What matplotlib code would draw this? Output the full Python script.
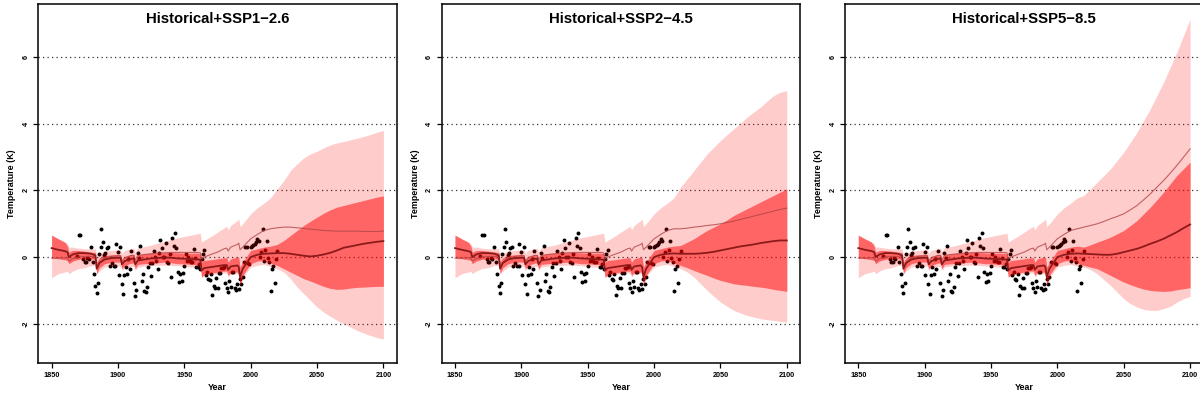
import matplotlib
matplotlib.use("Agg")
import matplotlib.pyplot as plt
import numpy as np

plt.rcParams['font.family'] = ['Liberation Sans', 'DejaVu Sans']

# ---------------- data ----------------
titles = ["Historical+SSP1\u22122.6", "Historical+SSP2\u22124.5", "Historical+SSP5\u22128.5"]

hist_years = [1850, 1855, 1860, 1862, 1863, 1866, 1870, 1875, 1880, 1883, 1884, 1886,
              1890, 1895, 1900, 1902, 1903, 1905, 1910, 1912, 1913, 1915, 1920, 1925,
              1930, 1935, 1940, 1945, 1950, 1955, 1960, 1962, 1963, 1965, 1970, 1975,
              1980, 1982, 1983, 1985, 1990, 1991, 1992, 1994, 2000, 2005, 2010, 2015]
fut_years = [2020, 2025, 2030, 2035, 2040, 2045, 2050, 2055, 2060, 2065, 2070, 2075,
             2080, 2085, 2090, 2095, 2100]

hist_light_up = [0.66, 0.55, 0.45, 0.40, 0.30, 0.30, 0.27, 0.25, 0.25, 0.25, 0.00, 0.12,
                 0.18, 0.20, 0.22, 0.22, 0.10, 0.20, 0.25, 0.27, 0.15, 0.28, 0.32, 0.36,
                 0.42, 0.47, 0.53, 0.58, 0.62, 0.66, 0.70, 0.72, 0.45, 0.50, 0.62, 0.75,
                 0.88, 0.93, 0.82, 0.95, 1.10, 1.15, 0.92, 1.00, 1.30, 1.48, 1.62, 1.78]
hist_light_lo = [-0.62, -0.50, -0.45, -0.42, -0.50, -0.42, -0.35, -0.32, -0.25, -0.25, -0.50, -0.42,
                 -0.30, -0.27, -0.27, -0.27, -0.40, -0.32, -0.28, -0.28, -0.40, -0.30, -0.27, -0.25,
                 -0.25, -0.24, -0.25, -0.26, -0.28, -0.30, -0.30, -0.32, -0.62, -0.56, -0.52, -0.50,
                 -0.48, -0.48, -0.60, -0.52, -0.50, -0.55, -0.85, -0.60, -0.30, -0.25, -0.22, -0.28]
hist_red_up = [0.66, 0.55, 0.45, 0.33, 0.15, 0.20, 0.20, 0.18, 0.15, 0.14, -0.15, -0.02,
               0.05, 0.07, 0.08, 0.07, -0.10, 0.02, 0.08, 0.08, -0.08, 0.06, 0.10, 0.12,
               0.13, 0.14, 0.14, 0.13, 0.12, 0.12, 0.12, 0.10, -0.15, -0.10, -0.08, -0.05,
               -0.02, -0.02, -0.15, -0.05, 0.00, 0.00, -0.30, -0.15, 0.20, 0.25, 0.30, 0.33]
hist_red_lo = [-0.02, -0.05, -0.08, -0.10, -0.20, -0.12, -0.07, -0.05, -0.05, -0.08, -0.50, -0.32,
               -0.20, -0.15, -0.15, -0.15, -0.35, -0.25, -0.18, -0.18, -0.35, -0.22, -0.20, -0.18,
               -0.17, -0.15, -0.17, -0.20, -0.20, -0.22, -0.23, -0.25, -0.60, -0.52, -0.48, -0.45,
               -0.42, -0.42, -0.55, -0.45, -0.45, -0.50, -0.85, -0.55, -0.20, -0.12, -0.10, -0.18]
hist_median = [0.27, 0.22, 0.18, 0.15, 0.00, 0.08, 0.12, 0.12, 0.10, 0.05, -0.35, -0.18,
               -0.07, -0.03, -0.02, -0.02, -0.22, -0.12, -0.05, -0.05, -0.22, -0.10, -0.07, -0.04,
               -0.03, -0.01, -0.02, -0.04, -0.05, -0.06, -0.07, -0.08, -0.40, -0.33, -0.30, -0.27,
               -0.24, -0.24, -0.38, -0.28, -0.25, -0.30, -0.60, -0.35, 0.00, 0.07, 0.10, 0.11]
hist_thin = [-0.03, -0.03, -0.02, -0.02, -0.12, -0.05, 0.00, 0.02, 0.02, 0.00, -0.30, -0.15,
             -0.02, 0.02, 0.04, 0.04, -0.12, -0.02, 0.05, 0.05, -0.08, 0.05, 0.08, 0.10,
             0.12, 0.13, 0.14, 0.14, 0.14, 0.14, 0.14, 0.13, -0.05, 0.00, 0.08, 0.15,
             0.25, 0.27, 0.18, 0.30, 0.38, 0.42, 0.22, 0.30, 0.55, 0.68, 0.80, 0.85]

# future projections, one list per scenario
ssp126_light_up = [2.05, 2.30, 2.60, 2.80, 2.98, 3.10, 3.18, 3.28, 3.37, 3.43, 3.47, 3.52, 3.57, 3.62, 3.68, 3.75, 3.80]
ssp126_light_lo = [-0.35, -0.45, -0.65, -0.90, -1.10, -1.30, -1.50, -1.65, -1.78, -1.90, -2.00, -2.10, -2.20, -2.28, -2.35, -2.42, -2.46]
ssp126_red_up = [0.38, 0.50, 0.65, 0.80, 0.95, 1.08, 1.20, 1.32, 1.42, 1.50, 1.55, 1.60, 1.65, 1.70, 1.75, 1.80, 1.84]
ssp126_red_lo = [-0.25, -0.35, -0.45, -0.55, -0.65, -0.72, -0.80, -0.88, -0.94, -0.97, -0.96, -0.93, -0.91, -0.90, -0.89, -0.88, -0.88]
ssp126_median = [0.12, 0.12, 0.10, 0.07, 0.04, 0.02, 0.04, 0.08, 0.13, 0.20, 0.28, 0.32, 0.36, 0.40, 0.43, 0.46, 0.48]
ssp126_thin = [0.88, 0.90, 0.90, 0.88, 0.86, 0.84, 0.82, 0.80, 0.79, 0.78, 0.78, 0.78, 0.78, 0.77, 0.77, 0.77, 0.78]

ssp245_light_up = [2.10, 2.35, 2.60, 2.85, 3.10, 3.30, 3.50, 3.68, 3.85, 4.02, 4.20, 4.35, 4.50, 4.68, 4.85, 4.95, 5.00]
ssp245_light_lo = [-0.35, -0.45, -0.60, -0.80, -1.00, -1.18, -1.35, -1.48, -1.60, -1.68, -1.75, -1.80, -1.85, -1.88, -1.90, -1.93, -1.95]
ssp245_red_up = [0.35, 0.45, 0.55, 0.68, 0.80, 0.90, 1.00, 1.12, 1.25, 1.35, 1.45, 1.55, 1.65, 1.75, 1.85, 1.95, 2.05]
ssp245_red_lo = [-0.25, -0.32, -0.40, -0.48, -0.55, -0.63, -0.70, -0.75, -0.80, -0.83, -0.85, -0.88, -0.90, -0.93, -0.97, -1.00, -1.03]
ssp245_median = [0.10, 0.10, 0.10, 0.11, 0.13, 0.16, 0.20, 0.24, 0.28, 0.32, 0.35, 0.38, 0.42, 0.45, 0.48, 0.50, 0.50]
ssp245_thin = [0.85, 0.87, 0.90, 0.92, 0.95, 0.97, 1.00, 1.04, 1.08, 1.13, 1.18, 1.23, 1.28, 1.33, 1.38, 1.43, 1.47]

ssp585_light_up = [1.85, 2.05, 2.25, 2.45, 2.65, 2.90, 3.15, 3.45, 3.75, 4.10, 4.45, 4.85, 5.25, 5.70, 6.15, 6.65, 7.15]
ssp585_light_lo = [-0.30, -0.38, -0.50, -0.68, -0.85, -1.05, -1.25, -1.40, -1.50, -1.57, -1.60, -1.60, -1.55, -1.48, -1.35, -1.25, -1.18]
ssp585_red_up = [0.30, 0.37, 0.45, 0.52, 0.60, 0.70, 0.80, 0.95, 1.10, 1.30, 1.50, 1.72, 1.95, 2.20, 2.45, 2.65, 2.85]
ssp585_red_lo = [-0.25, -0.30, -0.35, -0.45, -0.55, -0.65, -0.75, -0.83, -0.90, -0.96, -1.00, -1.02, -1.03, -1.02, -0.98, -0.95, -0.92]
ssp585_median = [0.10, 0.09, 0.08, 0.07, 0.07, 0.10, 0.15, 0.20, 0.25, 0.32, 0.40, 0.47, 0.55, 0.65, 0.75, 0.87, 0.98]
ssp585_thin = [0.90, 0.95, 1.00, 1.07, 1.15, 1.22, 1.30, 1.42, 1.55, 1.72, 1.90, 2.10, 2.30, 2.52, 2.75, 3.00, 3.25]

# observations (black dots)
obs_years = [1869, 1870.6, 1871.6, 1874, 1875, 1875.8, 1877, 1878, 1879.6, 1881, 1882, 1883, 1884,
             1885, 1885.6, 1887, 1887.6, 1888.6, 1889.6, 1890.6, 1891.4, 1892.6, 1893.9, 1895.4,
             1896.9, 1897.9, 1898.6, 1899.9, 1900.6, 1901.9, 1902.9, 1903.9, 1904.9, 1905.9,
             1906.9, 1907.9, 1908.9, 1909.9, 1911.9, 1912.9, 1913.9, 1914.9, 1915.9, 1916.9,
             1917.9, 1918.9, 1919.9, 1920.9, 1921.9, 1922.9, 1923.9, 1924.9, 1925.9, 1926.9,
             1928, 1929, 1930, 1931, 1932, 1933, 1934, 1935, 1936, 1937, 1938, 1939, 1940,
             1941, 1942, 1943, 1944, 1945, 1946, 1947, 1948, 1949, 1950, 1951, 1952, 1953,
             1954, 1955, 1956, 1957, 1958, 1959, 1960, 1961, 1962, 1963, 1964, 1965, 1966,
             1967, 1968, 1969, 1970, 1971, 1972, 1973, 1974, 1975, 1976, 1977, 1978, 1979,
             1980, 1981, 1982, 1983, 1984, 1985, 1986, 1987, 1988, 1989, 1990, 1991, 1992,
             1993, 1994, 1995, 1996, 1997, 1998, 1999, 2000, 2001, 2002, 2003, 2004, 2005,
             2006, 2007, 2008, 2009, 2010, 2011, 2012, 2013, 2014, 2015, 2016, 2017, 2018,
             2019, 2020]
obs_temp = [0.04, 0.67, 0.67, -0.06, -0.14, -0.14, -0.02, -0.05, 0.29, -0.14, -0.52, -0.87, -1.07,
            -0.79, 0.08, 0.29, 0.83, 0.44, 0.07, 0.11, 0.26, 0.31, -0.28, -0.18,
            -0.26, -0.26, 0.38, 0.14, -0.55, 0.29, -0.82, -1.12, -0.55, -0.31,
            -0.52, -0.05, -0.37, 0.17, -0.77, -1.17, -1.00, 0.11, -0.04, 0.32,
            -0.71, -0.51, -1.02, -1.06, -0.91, -0.30, -0.19, -0.58, -0.17, 0.18,
            0.01, -0.13, -0.35, 0.13, 0.51, 0.26, 0.01, 0.01, 0.41, -0.15, -0.19, 0.09, -0.59,
            0.58, 0.32, 0.71, 0.28, -0.45, -0.75, -0.52, -0.73, -0.47, -0.26, 0.10, -0.12, 0.01,
            -0.13, -0.15, -0.15, 0.24, -0.04, -0.29, -0.30, -0.21, -0.37, -0.05, 0.10, 0.22, -0.55,
            -0.45, -0.65, -0.68, -0.50, -1.14, -0.87, -0.94, -0.62, -0.93, -0.47, -0.47, -0.34, -0.32,
            -0.30, -0.79, -0.93, -1.04, -0.72, -0.89, -0.44, -0.46, -0.92, -0.99, -0.82, -0.96, -0.67,
            -0.81, -0.60, -0.16, 0.29, 0.30, -0.19, -0.22, 0.29, 0.34, 0.37, 0.40, 0.46, 0.55,
            0.49, -0.01, 0.14, 0.83, -0.11, 0.20, 0.47, -0.02, -0.15, -1.01, -0.37, -0.26, -0.79,
            -0.07, 0.17]

scenarios = [
    (ssp126_light_up, ssp126_light_lo, ssp126_red_up, ssp126_red_lo, ssp126_median, ssp126_thin),
    (ssp245_light_up, ssp245_light_lo, ssp245_red_up, ssp245_red_lo, ssp245_median, ssp245_thin),
    (ssp585_light_up, ssp585_light_lo, ssp585_red_up, ssp585_red_lo, ssp585_median, ssp585_thin),
]

x_ticks = [1850, 1900, 1950, 2000, 2050, 2100]
y_ticks = [-2, 0, 2, 4, 6]

# ---------------- figure ----------------
W, H = 1200, 401
fig = plt.figure(figsize=(W / 100, H / 100), dpi=100)
lefts_px = [38.3, 441.7, 845.0]
ax_w_px, ax_h_px = 358.4, 359.0
bottom_px = H - 363.0

years = np.array(hist_years + fut_years, dtype=float)

for i, (title, sc) in enumerate(zip(titles, scenarios)):
    lu, ll, ru, rl, med, thin = sc
    ax = fig.add_axes([lefts_px[i] / W, bottom_px / H, ax_w_px / W, ax_h_px / H])
    ax.set_xlim(1840, 2110)
    ax.set_ylim(-3.18, 7.6)

    for yv in y_ticks:
        ax.axhline(yv, color='#333333', lw=0.9, linestyle=(0, (1, 2.6)), zorder=1)

    ax.scatter(obs_years, obs_temp, s=8, color='black', zorder=2, linewidths=0)

    ax.fill_between(years, hist_light_lo + ll, hist_light_up + lu,
                    color='red', alpha=0.2, lw=0, zorder=3)
    ax.fill_between(years, hist_red_lo + rl, hist_red_up + ru,
                    color='red', alpha=0.5, lw=0, zorder=4)
    ax.plot(years, hist_thin + thin, color='#b04545', lw=0.8, alpha=0.8, zorder=5)
    ax.plot(years, hist_median + med, color='#8c1a1a', lw=1.3, zorder=6)

    ax.text(0.5, 0.977, title, transform=ax.transAxes, ha='center', va='top',
            fontsize=10.7, fontweight='bold')

    ax.set_xticks(x_ticks)
    ax.set_yticks(y_ticks)
    ax.set_xticklabels([str(v) for v in x_ticks], fontsize=5.2, fontweight='bold')
    ax.set_yticklabels([str(v) for v in y_ticks], fontsize=5.2, fontweight='bold',
                       rotation=90, va='center')
    ax.tick_params(axis='both', direction='out', length=3.6, width=0.9, pad=2.6)

    ax.set_xlabel('Year', fontsize=6.4, fontweight='bold')
    ax.set_ylabel('Temperature (K)', fontsize=6.4, fontweight='bold')
    ax.xaxis.set_label_coords(0.5, -25.0 / ax_h_px)
    ax.xaxis.label.set_va('center')
    ax.yaxis.set_label_coords(-26.5 / ax_w_px, 0.5)
    ax.yaxis.label.set_va('center')

    for sp in ax.spines.values():
        sp.set_linewidth(1.1)
        sp.set_zorder(10)

fig.savefig('out.png', dpi=100)
